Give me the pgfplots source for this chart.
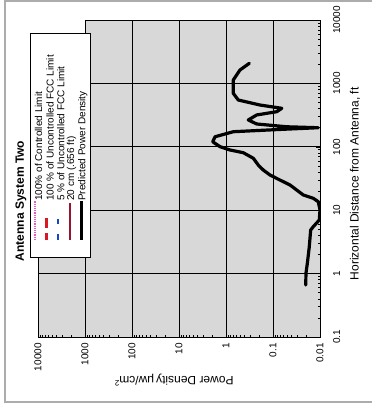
\documentclass[border=0pt]{standalone}
\usepackage{fontspec}
\setmainfont{Liberation Sans}
\usepackage{pgfplots}
\pgfplotsset{compat=1.18}
\definecolor{plotbg}{RGB}{216,216,216}
\definecolor{maroonline}{RGB}{150,20,45}
\definecolor{limitred}{RGB}{215,25,35}
\definecolor{limitblue}{RGB}{20,70,200}
\definecolor{limitpink}{RGB}{230,90,200}
\begin{document}
\begin{tikzpicture}
\useasboundingbox (-38pt,-73pt) rectangle (334pt,337pt);
\draw[gray!65, line width=1.2pt] (-33pt,-65pt) rectangle (345pt,336pt);
\begin{axis}[
  at={(0pt,0pt)}, anchor=south west,
  scale only axis, width=282pt, height=317pt,
  xmode=log, ymode=log,
  xmin=0.01, xmax=10000, ymin=0.1, ymax=10000,
  x dir=reverse,
  axis background/.style={fill=plotbg},
  xtick={0.01,0.1,1,10,100,1000,10000},
  xticklabels={0.01,0.1,1,10,100,1000,10000},
  ytick={0.1,1,10,100,1000,10000},
  yticklabels={0.1,1,10,100,1000,10000},
  xtick pos=left, ytick pos=right, yticklabel pos=right,
  ticklabel style={font=\fontsize{10}{12}\selectfont, inner sep=0pt},
  xticklabel style={rotate=90, anchor=east},
  yticklabel style={rotate=90, anchor=north},
  xticklabel shift=6pt, yticklabel shift=13pt,
  major tick length=4pt, minor tick length=2.5pt,
  tick style={black, line width=0.6pt},
  grid=major,
  major grid style={black, line width=0.7pt},
  axis line style={black, line width=0.8pt},
  xlabel={Power Density\,μw/cm\textsuperscript{2}},
  ylabel={Horizontal Distance from Antenna, ft},
  every axis x label/.style={at={(axis description cs:0.482,-0.1356)}, rotate=180, anchor=center, font=\fontsize{12}{14}\selectfont},
  every axis y label/.style={at={(axis description cs:1.124,0.483)}, rotate=90, anchor=center, font=\fontsize{12}{14}\selectfont},
  title={Antenna System Two},
  every axis title/.style={at={(axis description cs:-0.0603,0.429)}, rotate=90, anchor=center, font=\fontsize{12}{14}\selectfont\bfseries},
]
\addplot[black, line width=3.2pt, line join=round, line cap=round] coordinates {
(0.0201,0.66) (0.0199,1.01) (0.0186,1.45) (0.0169,2.65) (0.0158,4.87)
(0.0139,5.49) (0.01035,7.0) (0.0100,10.07) (0.01086,13.6) (0.0139,15.4)
(0.0227,17.4) (0.0313,20.8) (0.0435,25.0) (0.071,29.9) (0.116,35.9)
(0.161,43.0) (0.206,51.6) (0.262,65.9) (0.428,80.7) (0.822,89.1)
(1.34,100.4) (1.92,120) (1.71,144) (0.70,173) (0.060,189)
(0.0109,200) (0.051,207) (0.222,229) (0.336,265) (0.222,318)
(0.083,358) (0.065,405) (0.189,456) (0.547,547) (0.70,698)
(0.70,1132) (0.504,1627) (0.319,2075)
};
\end{axis}
% white patch above the legend
\fill[white] (0.5pt,304pt) rectangle (46.6pt,316.5pt);
% legend (rotated like the rest of the chart)
\begin{scope}[shift={(52pt,80pt)}, rotate=90, transform shape]
  \draw[black, line width=0.6pt, fill=white] (0pt,0pt) rectangle (224pt,60pt);
  \draw[limitpink, densely dotted, line width=1.2pt] (17pt,55pt) -- (56pt,55pt);
  \draw[limitred, line width=2.4pt, dash pattern=on 7pt off 5pt on 10pt off 20pt] (17pt,43.3pt) -- (56pt,43.3pt);
  \draw[limitblue, line width=2.4pt, dash pattern=on 6pt off 10pt on 5pt off 20pt] (17pt,31.7pt) -- (56pt,31.7pt);
  \draw[maroonline, line width=1.5pt] (17pt,20pt) -- (54pt,20pt);
  \draw[black, line width=3pt] (17pt,8.3pt) -- (56pt,8.3pt);
  \begin{scope}[every node/.style={anchor=west, inner sep=0pt, font=\fontsize{10}{12}\selectfont}]
    \node at (56pt,51.5pt) {100\% of Controlled Limit};
    \node at (56pt,40pt) {100 \% of Uncontrolled FCC Limit};
    \node at (56pt,29.3pt) {5 \% of Uncontrolled FCC Limit};
    \node at (56pt,18.5pt) {20 cm (.656 ft)};
    \node at (56pt,7.3pt) {Predicted Power Density};
  \end{scope}
\end{scope}
\end{tikzpicture}
\end{document}
